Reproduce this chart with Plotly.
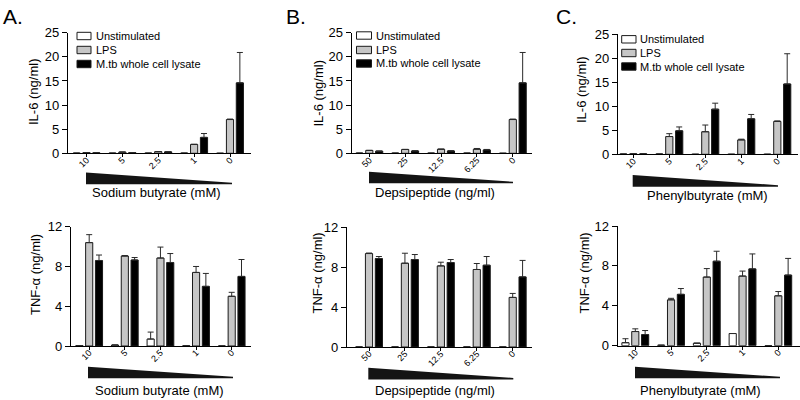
import plotly.graph_objects as go

W, H = 800, 400

# ---------------- data ----------------
series_names = ["Unstimulated", "LPS", "M.tb whole cell lysate"]

sb_doses = ["10", "5", "2.5", "1", "0"]        # Sodium butyrate (mM)
dp_doses = ["50", "25", "12.5", "6.25", "0"]   # Depsipeptide (ng/ml)
pb_doses = ["10", "5", "2.5", "1", "0"]        # Phenylbutyrate (mM)

# IL-6 (ng/ml) - Sodium butyrate
il6_sb_unstim = [0.03, 0.03, 0.03, 0.03, 0.0]
il6_sb_unstim_err = [0, 0, 0, 0, 0]
il6_sb_lps = [0.15, 0.25, 0.35, 1.85, 7.0]
il6_sb_lps_err = [0, 0, 0, 0, 0.1]
il6_sb_mtb = [0.1, 0.15, 0.3, 3.3, 14.6]
il6_sb_mtb_err = [0, 0, 0, 0.8, 6.3]

# TNF-alpha (ng/ml) - Sodium butyrate
tnf_sb_unstim = [0.05, 0.1, 0.7, 0.03, 0.0]
tnf_sb_unstim_err = [0, 0, 0.7, 0, 0]
tnf_sb_lps = [10.4, 9.05, 8.85, 7.4, 5.0]
tnf_sb_lps_err = [0.8, 0.05, 1.1, 0.6, 0.4]
tnf_sb_mtb = [8.6, 8.65, 8.4, 6.0, 7.0]
tnf_sb_mtb_err = [0.55, 0.25, 0.9, 1.3, 1.7]

# IL-6 (ng/ml) - Depsipeptide
il6_dp_unstim = [0.03, 0.03, 0.03, 0.03, 0.0]
il6_dp_unstim_err = [0, 0, 0, 0, 0]
il6_dp_lps = [0.6, 0.8, 0.85, 0.85, 7.0]
il6_dp_lps_err = [0, 0, 0, 0.15, 0.1]
il6_dp_mtb = [0.45, 0.5, 0.5, 0.7, 14.6]
il6_dp_mtb_err = [0, 0, 0, 0.1, 6.3]

# TNF-alpha (ng/ml) - Depsipeptide
tnf_dp_unstim = [0.0, 0.0, 0.0, 0.0, 0.0]
tnf_dp_unstim_err = [0, 0, 0, 0, 0]
tnf_dp_lps = [9.37, 8.4, 8.13, 7.77, 4.97]
tnf_dp_lps_err = [0.05, 1.0, 0.37, 0.6, 0.4]
tnf_dp_mtb = [8.87, 8.77, 8.47, 8.2, 7.03]
tnf_dp_mtb_err = [0.2, 0.5, 0.3, 0.87, 1.65]

# IL-6 (ng/ml) - Phenylbutyrate
il6_pb_unstim = [0.05, 0.05, 0.0, 0.0, 0.0]
il6_pb_unstim_err = [0, 0, 0, 0, 0]
il6_pb_lps = [0.1, 3.7, 4.7, 3.0, 6.85]
il6_pb_lps_err = [0, 0.6, 1.4, 0.15, 0.1]
il6_pb_mtb = [0.1, 4.9, 9.4, 7.4, 14.65]
il6_pb_mtb_err = [0, 0.8, 1.25, 0.9, 6.3]

# TNF-alpha (ng/ml) - Phenylbutyrate
tnf_pb_unstim = [0.3, 0.05, 0.25, 1.22, 0.0]
tnf_pb_unstim_err = [0.4, 0, 0, 0, 0]
tnf_pb_lps = [1.42, 4.6, 6.88, 6.98, 5.0]
tnf_pb_lps_err = [0.27, 0.15, 0.85, 0.5, 0.43]
tnf_pb_mtb = [1.12, 5.15, 8.47, 7.7, 7.08]
tnf_pb_mtb_err = [0.4, 0.58, 1.0, 1.5, 1.67]

il6_ticks = [0, 5, 10, 15, 20, 25]
tnf_ticks = [0, 4, 8, 12]

# ---------------- styling / layout (pixels) ----------------
FONT = "Liberation Sans, Arial, Helvetica, sans-serif"
FILLS = ["#ffffff", "#c6c6c6", "#000000"]
OUTLINE = "#1a1a1a"
ERRC = "#2a2a2a"
BW = 0.2
OFFSETS = [-0.375, -0.1, 0.175]

panels = [
    dict(cats=sb_doses, vals=[il6_sb_unstim, il6_sb_lps, il6_sb_mtb],
         errs=[il6_sb_unstim_err, il6_sb_lps_err, il6_sb_mtb_err],
         ymax=25, ticks=il6_ticks, ytitle="IL-6 (ng/ml)", xtitle="Sodium butyrate (mM)",
         xd=(68, 250.7), yd=(153.3, 32.7), g=(86.5, 230.0),
         wedge=(86, 232, 172.5, 184.3), xt=(156, 193), yt=(33, 92),
         legend=dict(bx=(77, 91), rows=(36, 50, 64), tx=93.5)),
    dict(cats=sb_doses, vals=[tnf_sb_unstim, tnf_sb_lps, tnf_sb_mtb],
         errs=[tnf_sb_unstim_err, tnf_sb_lps_err, tnf_sb_mtb_err],
         ymax=12, ticks=tnf_ticks, ytitle="TNF-α (ng/ml)", xtitle="Sodium butyrate (mM)",
         xd=(71, 250.7), yd=(346, 226.7), g=(89.2, 231.7),
         wedge=(88, 233, 366.7, 378.3), xt=(159, 390), yt=(35, 275), legend=None),
    dict(cats=dp_doses, vals=[il6_dp_unstim, il6_dp_lps, il6_dp_mtb],
         errs=[il6_dp_unstim_err, il6_dp_lps_err, il6_dp_mtb_err],
         ymax=25, ticks=il6_ticks, ytitle="IL-6 (ng/ml)", xtitle="Depsipeptide (ng/ml)",
         xd=(351.7, 531.7), yd=(153.3, 32.7), g=(369.3, 512.8),
         wedge=(369, 513, 171.7, 183.3), xt=(435, 193), yt=(317.5, 94),
         legend=dict(bx=(356.5, 371.5), rows=(35.5, 50, 63.5), tx=373.5)),
    dict(cats=dp_doses, vals=[tnf_dp_unstim, tnf_dp_lps, tnf_dp_mtb],
         errs=[tnf_dp_unstim_err, tnf_dp_lps_err, tnf_dp_mtb_err],
         ymax=12, ticks=tnf_ticks, ytitle="TNF-α (ng/ml)", xtitle="Depsipeptide (ng/ml)",
         xd=(347, 531.7), yd=(347, 227.3), g=(369.0, 512.7),
         wedge=(368.3, 513.3, 367.7, 379.5), xt=(435, 390.5), yt=(316.5, 273), legend=None),
    dict(cats=pb_doses, vals=[il6_pb_unstim, il6_pb_lps, il6_pb_mtb],
         errs=[il6_pb_unstim_err, il6_pb_lps_err, il6_pb_mtb_err],
         ymax=25, ticks=il6_ticks, ytitle="IL-6 (ng/ml)", xtitle="Phenylbutyrate (mM)",
         xd=(618, 798), yd=(154.3, 34.3), g=(633.3, 777.3),
         wedge=(632.7, 778, 175, 186.7), xt=(707, 195), yt=(582, 90),
         legend=dict(bx=(621.7, 636), rows=(39.3, 53, 66.5), tx=638)),
    dict(cats=pb_doses, vals=[tnf_pb_unstim, tnf_pb_lps, tnf_pb_mtb],
         errs=[tnf_pb_unstim_err, tnf_pb_lps_err, tnf_pb_mtb_err],
         ymax=12, ticks=tnf_ticks, ytitle="TNF-α (ng/ml)", xtitle="Phenylbutyrate (mM)",
         xd=(617.7, 799.5), yd=(345.7, 226), g=(635.3, 778.3),
         wedge=(635, 780, 366.7, 378.3), xt=(700, 390), yt=(583.5, 273), legend=None),
]

def fx(px):
    return px / W

def fy(py):
    return 1 - py / H

fig = go.Figure()
layout = {}
shapes = []
annotations = []

for i, p in enumerate(panels):
    n = i + 1
    xa = "x" if n == 1 else f"x{n}"
    ya = "y" if n == 1 else f"y{n}"
    for s in range(3):
        fig.add_trace(go.Bar(
            x=p["cats"], y=p["vals"][s], name=series_names[s],
            width=BW, offset=OFFSETS[s], xaxis=xa, yaxis=ya,
            marker=dict(color=FILLS[s], line=dict(color=OUTLINE, width=1)),
            error_y=dict(type="data", symmetric=False, array=p["errs"][s],
                         arrayminus=[0] * len(p["cats"]), color=ERRC,
                         thickness=1, width=3),
            showlegend=False,
        ))
    g0, g1 = p["g"]
    sp = (g1 - g0) / (len(p["cats"]) - 1)
    x0, x1 = p["xd"]
    r0 = (x0 - g0) / sp
    r1 = (len(p["cats"]) - 1) + (x1 - g1) / sp
    y0, y1 = p["yd"]
    layout["xaxis" if n == 1 else f"xaxis{n}"] = dict(
        domain=[fx(x0), fx(x1)], anchor=ya, type="category", range=[r0, r1],
        showline=True, linecolor="black", linewidth=1.2, ticks="outside",
        ticklen=3, tickcolor="black", tickwidth=1, tickangle=-45,
        ticklabelstandoff=-6,
        tickfont=dict(size=9, color="black", family=FONT),
        showgrid=False, zeroline=False, fixedrange=True, automargin=False)
    layout["yaxis" if n == 1 else f"yaxis{n}"] = dict(
        domain=[fy(y0), fy(y1)], anchor=xa, range=[0, p["ymax"]],
        tickvals=p["ticks"], showline=True, linecolor="black", linewidth=1.2,
        ticks="outside", ticklen=5, tickcolor="black", tickwidth=1,
        tickfont=dict(size=13, color="black", family=FONT),
        showgrid=False, zeroline=False, fixedrange=True, automargin=False)

    # dose wedge under the axis
    wl, wr, wt, wb = p["wedge"]
    path = (f"M {fx(wl)} {fy(wt)} L {fx(wr)} {fy(wb - 1.5)} "
            f"L {fx(wr)} {fy(wb)} L {fx(wl)} {fy(wb)} Z")
    shapes.append(dict(type="path", path=path, xref="paper", yref="paper",
                       fillcolor="#141414", line=dict(width=0)))

    # axis titles
    annotations.append(dict(x=fx(p["xt"][0]), y=fy(p["xt"][1]), xref="paper", yref="paper",
                            text=p["xtitle"], showarrow=False, xanchor="center",
                            yanchor="middle", font=dict(size=13, color="black", family=FONT)))
    annotations.append(dict(x=fx(p["yt"][0]), y=fy(p["yt"][1]), xref="paper", yref="paper",
                            text=p["ytitle"], showarrow=False, textangle=-90,
                            xanchor="center", yanchor="middle",
                            font=dict(size=13, color="black", family=FONT)))

    # legend (drawn as boxes + text)
    lg = p["legend"]
    if lg:
        bx0, bx1 = lg["bx"]
        for s, ry in enumerate(lg["rows"]):
            shapes.append(dict(type="rect", xref="paper", yref="paper",
                               x0=fx(bx0), x1=fx(bx1), y0=fy(ry + 3.7), y1=fy(ry - 3.7),
                               fillcolor=FILLS[s], line=dict(color=OUTLINE, width=1)))
            annotations.append(dict(x=fx(lg["tx"]), y=fy(ry), xref="paper", yref="paper",
                                    text=series_names[s], showarrow=False,
                                    xanchor="left", yanchor="middle",
                                    font=dict(size=11, color="black", family=FONT)))

# panel letters
for letter, lx in (("A.", 1), ("B.", 284), ("C.", 554)):
    annotations.append(dict(x=fx(lx), y=fy(16), xref="paper", yref="paper",
                            text=letter, showarrow=False, xanchor="left",
                            yanchor="middle", font=dict(size=21, color="black", family=FONT)))

fig.update_layout(
    width=W, height=H, margin=dict(l=0, r=0, t=0, b=0, autoexpand=False),
    paper_bgcolor="white", plot_bgcolor="white",
    barmode="overlay", showlegend=False,
    font=dict(family=FONT, color="black"),
    shapes=shapes, annotations=annotations,
    **layout,
)

fig.write_html(
    "out.html",
    config={"displayModeBar": False},
    post_script="document.body.style.margin='0';document.body.style.padding='0';"
                "document.documentElement.style.overflow='hidden';",
)
